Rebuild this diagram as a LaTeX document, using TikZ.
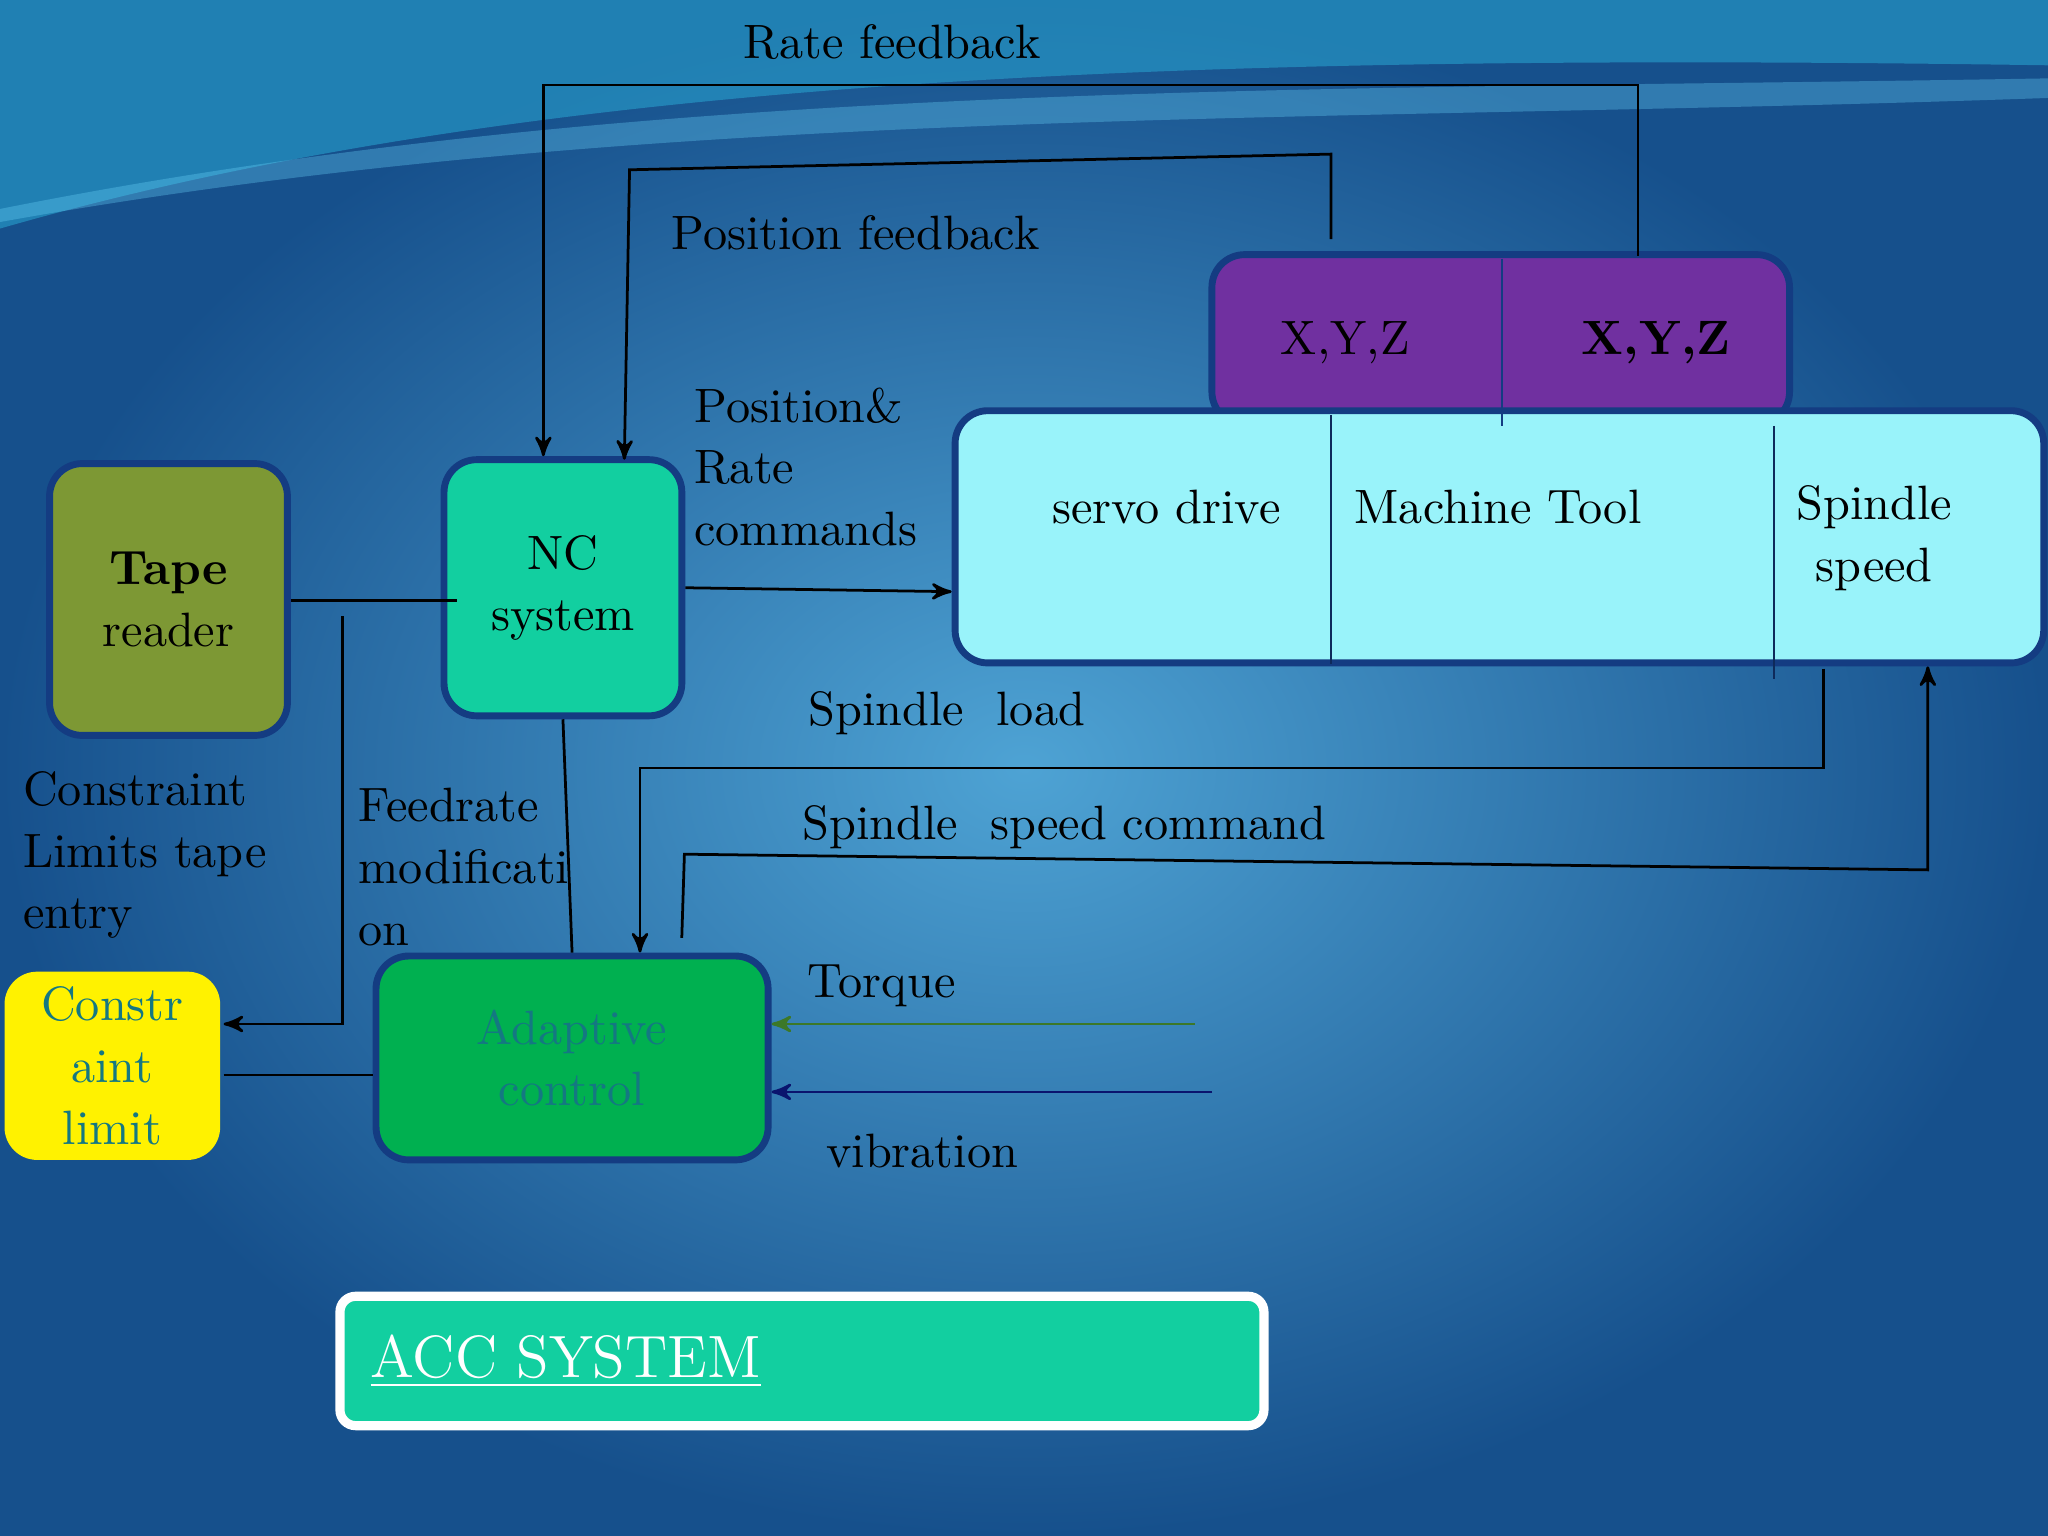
\documentclass[tikz,border=0pt]{standalone}
\usepackage{tikz}
\usetikzlibrary{arrows,positioning}
\definecolor{olivebox}{RGB}{125,152,52}
\definecolor{ncgreen}{RGB}{18,207,160}
\definecolor{purplebox}{RGB}{112,48,160}
\definecolor{cyanbox}{RGB}{153,243,250}
\definecolor{adgreen}{RGB}{0,176,80}
\definecolor{tealtext}{RGB}{20,120,130}
\definecolor{edgeblue}{RGB}{20,60,130}
\definecolor{bgin}{RGB}{78,163,212}
\definecolor{bgout}{RGB}{22,80,140}
\definecolor{wave}{RGB}{40,160,205}
\definecolor{torquegreen}{RGB}{60,120,40}
\definecolor{vibnavy}{RGB}{10,20,110}
\tikzset{
  blk/.style={draw=edgeblue,line width=1.5pt,rounded corners=0.25cm,align=center},
  lbl/.style={font=\fontsize{10.5}{13.4}\selectfont,align=left,inner sep=0pt},
  wire/.style={draw=black,line width=0.6pt}
}
\begin{document}
\begin{tikzpicture}[x=0.01cm,y=-0.01cm,>=stealth',font=\fontsize{10.5}{13.4}\selectfont]
\useasboundingbox (0,0) rectangle (1568,1176);
\shade[inner color=bgin,outer color=bgout] (0,0) rectangle (1568,1176);
\fill[wave,opacity=0.6] (0,175) .. controls (400,60) and (900,40) .. (1568,50) -- (1568,0) -- (0,0) -- cycle;
\fill[cyan!60!white,opacity=0.35] (0,160) .. controls (500,60) and (1000,70) .. (1568,60) -- (1568,75) .. controls (1000,95) and (500,80) .. (0,170) -- cycle;

\node[blk,fill=olivebox,minimum width=1.82cm,minimum height=2.08cm] (tape) at (129,459) {\textbf{Tape}\\reader};
\node[blk,fill=ncgreen,minimum width=1.82cm,minimum height=1.96cm] (nc) at (431,450) {NC\\system};
\node[blk,fill=purplebox,minimum width=4.42cm,minimum height=1.3cm] (xyz) at (1149,260) {};
\node[blk,fill=cyanbox,minimum width=8.33cm,minimum height=1.93cm] (mt) at (1148,411) {};
\draw[edgeblue,line width=0.5pt] (1150,198) -- (1150,326);
\draw[edgeblue!70!black,line width=0.5pt] (1019,318) -- (1019,508);
\draw[edgeblue!70!black,line width=0.5pt] (1358,326) -- (1358,520);
\node (xyzA) at (1030,262) {X,Y,Z};
\node (xyzB) at (1268,262) {\textbf{X,Y,Z}};
\node (servo) at (893,388) {servo drive};
\node (tool) at (1147,388) {Machine Tool};
\node[align=center] (spin) at (1435,412) {Spindle\\speed};
\node[blk,fill=adgreen,text=tealtext,minimum width=3cm,minimum height=1.56cm] (ac) at (438,810) {Adaptive\\control};
\node[blk,draw=none,fill=yellow,text=tealtext,minimum width=1.65cm,minimum height=1.39cm] (cl) at (86,816) {Constr\\aint\\limit};
\node[draw=white,line width=2pt,rounded corners=0.12cm,fill=ncgreen,minimum width=7.07cm,minimum height=0.99cm] (acc) at (614,1042) {};
\node[text=white,font=\fontsize{13}{15}\selectfont,anchor=west,inner sep=0pt] (acct) at (283,1042) {\underline{ACC SYSTEM}};

% labels
\node[lbl] (lrate) at (683,32) {Rate feedback};
\node[lbl] (lpos) at (655,178) {Position feedback};
\node[lbl,anchor=north west] (lcmd) at (531,296) {Position\&\\Rate\\commands};
\node[lbl] (lload) at (725,546) {Spindle\ \ load};
\node[lbl] (lscmd) at (815,633) {Spindle\ \ speed command};
\node[lbl,anchor=north west] (lfeed) at (274,603) {Feedrate\\modificati\\on};
\node[lbl,anchor=north west] (lcons) at (17,590) {Constraint\\Limits tape\\entry};
\node[lbl] (ltorq) at (675,755) {Torque};
\node[lbl] (lvib) at (706,881) {vibration};

% connectors
\coordinate (rs) at (1254,196);
\coordinate (ps) at (1019,183);
\coordinate (ls) at (1396,512);
\coordinate (ss) at (522,718);
\coordinate (ts) at (915,784);
\coordinate (vs) at (928,836);
\coordinate (tj) at (350,460);
\coordinate (cs) at (262,472);
\draw[wire,->] (rs) |- (416,65) -- (nc.north -| 416,0);
\draw[wire,->] (ps) -- (1019,118) -- (482,130) -- (478,352);
\draw[wire,->] (nc.east) -- (mt.west |- 0,453);
\draw[wire] (tape.east |- tj) -- (tj);
\draw[wire,->] (cs) |- (cl.east |- 0,784);
\draw[wire] (nc.south) -- (ac.north);
\draw[wire,->] (ls) |- (490,588) -- (ac.north -| 490,0);
\draw[wire,->] (ss) -- (524,654) -- (1476,666) -- (mt.south -| 1476,0);
\draw[torquegreen,line width=0.6pt,->] (ts) -- (ac.east |- ts);
\draw[vibnavy,line width=0.6pt,->] (vs) -- (ac.east |- vs);
\draw[wire] (cl.east |- 0,823) -- (ac.west |- 0,823);
\end{tikzpicture}
\end{document}
